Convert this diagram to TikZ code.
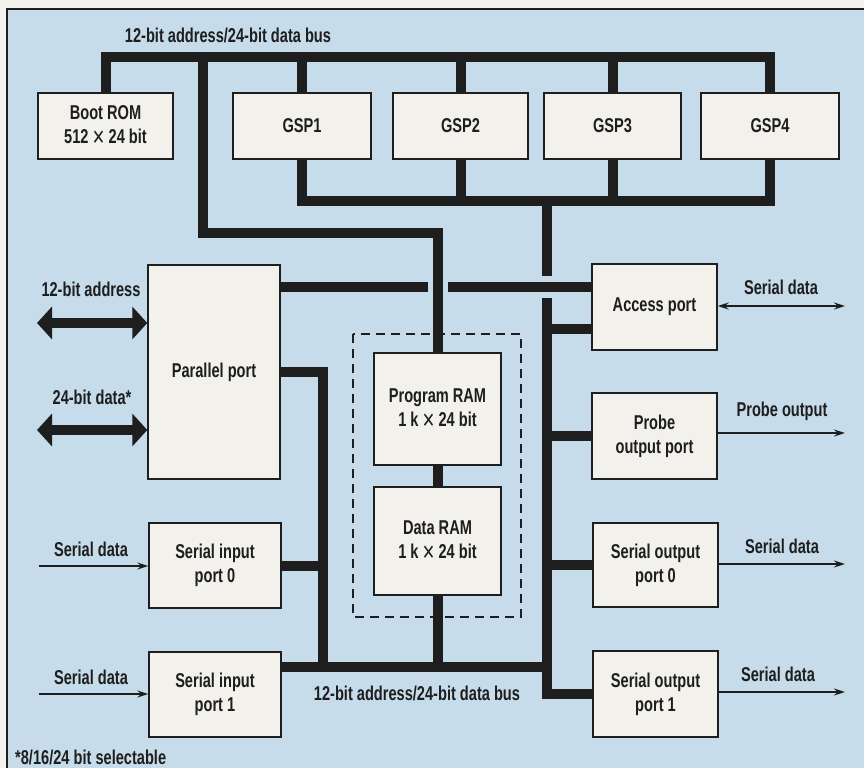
\documentclass[tikz,border=0pt]{standalone}
\usepackage{graphicx}
\usepackage{fontspec}
\setmainfont{Liberation Sans}[FakeStretch=0.73]
\usetikzlibrary{arrows.meta}
\definecolor{bg}{HTML}{C6DCEA}
\definecolor{boxc}{HTML}{F3F1EC}
\definecolor{ink}{HTML}{1E1E1E}
\definecolor{paper}{HTML}{F4F2EC}
\newcommand{\lab}{\fontsize{20}{24}\selectfont\bfseries}
\newcommand{\tms}{\raisebox{-3pt}{\scalebox{1.4}[1.4]{\mdseries ×}}}
\tikzset{
  box/.style={draw=ink, line width=1.4pt, fill=boxc, align=center, font=\lab, text=ink, inner sep=0pt},
  bus/.style={draw=ink, line width=10pt, line join=miter},
  fat/.style={draw=ink, line width=10pt, {Triangle[length=15pt,width=32pt]}-{Triangle[length=15pt,width=32pt]}},
  thin/.style={draw=ink, line width=1.5pt, -{Stealth[length=11pt,width=7pt]}},
  thinboth/.style={draw=ink, line width=1.5pt, {Stealth[length=11pt,width=7pt]}-{Stealth[length=11pt,width=7pt]}},
  lbl/.style={font=\lab, text=ink, inner sep=0pt},
  dashbox/.style={draw=ink, line width=1.3pt, dash pattern=on 9pt off 6pt}
}
\begin{document}
\begin{tikzpicture}[x=1pt,y=-1pt]
\useasboundingbox (0,0) rectangle (864,768);
\fill[paper] (0,0) rectangle (864,768);
\fill[bg] (7,9) rectangle (864,768);
\draw[ink, line width=1.5pt] (7,768) -- (7,9) -- (864,9);

% boxes
\node[box, minimum width=135pt, minimum height=66pt] (boot) at (105.5,126) {Boot ROM\\512 \tms{} 24 bit};
\node[box, minimum width=138pt, minimum height=66pt] (gsp1) at (302,126) {GSP1};
\node[box, minimum width=135pt, minimum height=66pt] (gsp2) at (460.5,126) {GSP2};
\node[box, minimum width=137pt, minimum height=66pt] (gsp3) at (612.5,126) {GSP3};
\node[box, minimum width=138pt, minimum height=66pt] (gsp4) at (770,126) {GSP4};
\node[box, minimum width=132pt, minimum height=214pt] (par) at (214,372) {Parallel port};
\node[box, minimum width=132pt, minimum height=85pt] (si0) at (215,565.5) {Serial input\\port 0};
\node[box, minimum width=132pt, minimum height=85pt] (si1) at (215,694.5) {Serial input\\port 1};
\node[box, minimum width=127pt, minimum height=112pt] (prog) at (437.5,409) {Program RAM\\1 k \tms{} 24 bit};
\node[box, minimum width=127pt, minimum height=108pt] (data) at (437.5,541) {Data RAM\\1 k \tms{} 24 bit};
\node[box, minimum width=125pt, minimum height=86pt] (access) at (654.5,307) {Access port};
\node[box, minimum width=125pt, minimum height=86pt] (probe) at (654.5,436) {Probe\\output port};
\node[box, minimum width=125pt, minimum height=84pt] (so0) at (655.5,565) {Serial output\\port 0};
\node[box, minimum width=125pt, minimum height=86pt] (so1) at (655.5,694) {Serial output\\port 1};

\draw[dashbox] (353,334) rectangle (521,617);

% helper coordinates
\coordinate (ytop) at (0,57);
\coordinate (ygsp) at (0,201);
\coordinate (ypr) at (0,233);
\coordinate (yh) at (0,287);
\coordinate (yac) at (0,329);
\coordinate (ybot) at (0,667);
\coordinate (xr) at (547,0);
\coordinate (xl) at (323,0);
\coordinate (pa) at (203,57);
\coordinate (rgapT) at (547,276);
\coordinate (rgapB) at (547,298);
\coordinate (hgapL) at (428,287);
\coordinate (hgapR) at (448,287);

% top bus
\draw[bus] (boot.north) -- (boot.north |- ytop) -- (gsp4.north |- ytop) -- (gsp4.north);
\foreach \g in {gsp1,gsp2,gsp3} \draw[bus] (\g.north) -- (\g.north |- ytop);
\draw[bus] (pa) |- (prog.north |- ypr) -- (prog.north);

% GSP lower bus
\draw[bus] (gsp1.south) -- (gsp1.south |- ygsp) -- (gsp4.south |- ygsp) -- (gsp4.south);
\foreach \g in {gsp2,gsp3} \draw[bus] (\g.south) -- (\g.south |- ygsp);

% right vertical bus
\draw[bus] (xr |- ygsp) -- (rgapT);
\draw[bus] (rgapB) |- (so1.west);
\draw[bus] (par.east |- yh) -- (hgapL);
\draw[bus] (hgapR) -- (access.west |- yh);
\draw[bus] (access.west |- yac) -- (xr |- yac);
\draw[bus] (probe.west) -- (probe.west -| xr);
\draw[bus] (so0.west) -- (so0.west -| xr);

% left bus
\draw[bus] (par.east) -| (xl |- ybot);
\draw[bus] (si0.east) -- (si0.east -| xl);
\draw[bus] (si1.east |- ybot) -- (xr |- ybot);
\draw[bus] (data.south) -- (data.south |- ybot);
\draw[bus] (prog.south) -- (data.north);

% left thick arrows
\coordinate (a12) at (37,323);
\coordinate (a24) at (37,430);
\draw[fat] (a12) -- (par.west |- a12);
\draw[fat] (a24) -- (par.west |- a24);

% thin arrows
\coordinate (in0) at (39,566);
\coordinate (in1) at (39,694);
\draw[thin] (in0) -- (si0.west |- in0);
\draw[thin] (in1) -- (si1.west |- in1);
\coordinate (out0) at (845,306);
\coordinate (out1) at (845,433);
\coordinate (out2) at (845,564);
\coordinate (out3) at (845,692);
\draw[thinboth] (access.east |- out0) -- (out0);
\draw[thin] (probe.east |- out1) -- (out1);
\draw[thin] (so0.east |- out2) -- (out2);
\draw[thin] (so1.east |- out3) -- (out3);

% labels
\node[lbl] (ltop) at (228,35) {12-bit address/24-bit data bus};
\node[lbl] (lbot) at (417,693) {12-bit address/24-bit data bus};
\node[lbl] (l12) at (91,289) {12-bit address};
\node[lbl] (l24) at (92,397) {24-bit data*};
\node[lbl] (lsi0) at (91,549) {Serial data};
\node[lbl] (lsi1) at (91,677) {Serial data};
\node[lbl] (lac) at (781,287) {Serial data};
\node[lbl] (lpr) at (782,411) {Probe output};
\node[lbl] (lso0) at (782,546) {Serial data};
\node[lbl] (lso1) at (778,674) {Serial data};
\node[lbl, anchor=west] (foot) at (15,757) {*8/16/24 bit selectable};
\end{tikzpicture}
\end{document}
